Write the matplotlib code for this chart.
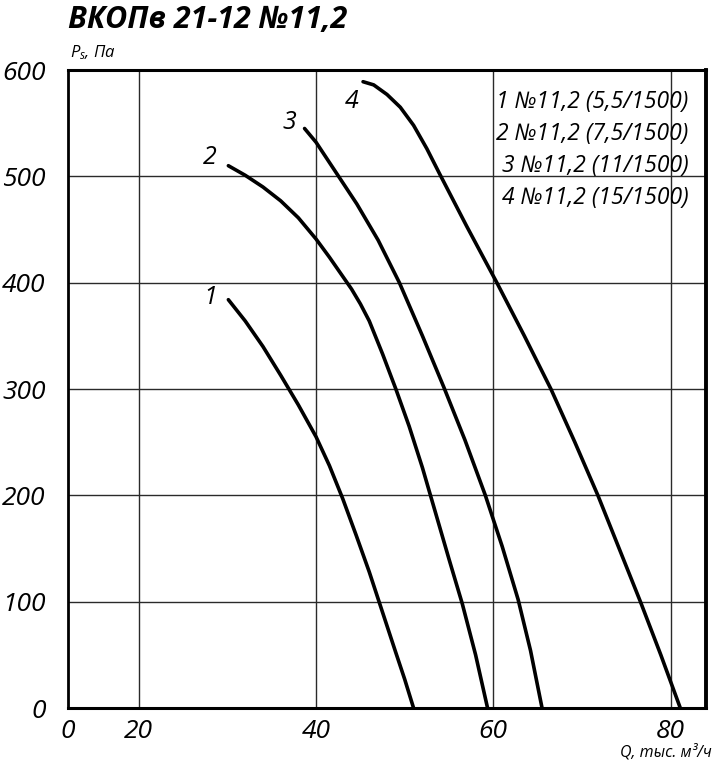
import matplotlib
matplotlib.use("Agg")
import matplotlib.pyplot as plt

plt.rcParams['font.family'] = ['Open Sans', 'DejaVu Sans']
plt.rcParams['font.style'] = 'italic'
plt.rcParams['mathtext.fontset'] = 'custom'
plt.rcParams['mathtext.it'] = 'Open Sans:italic'
plt.rcParams['mathtext.rm'] = 'Open Sans:italic'

# Характеристики вентиляторов (Q, тыс. м3/ч ; Ps, Па)
q1 = [30.1, 32.0, 34.0, 36.0, 38.0, 40.0, 41.5, 43.0, 44.5, 46.0, 47.5, 49.0, 50.0, 51.0]
p1 = [384, 364, 340, 313, 285, 255, 228, 197, 163, 128, 90, 52, 27, 0]

q2 = [30.1, 32.0, 34.0, 36.0, 38.0, 40.0, 41.5, 43.0, 44.0, 45.0, 46.0, 47.5, 49.0,
      50.5, 52.0, 53.5, 55.0, 56.5, 58.0, 59.35]
p2 = [510, 501, 490, 477, 461, 441, 424, 406, 394, 380, 364, 333, 300,
      265, 226, 183, 140, 98, 50, 0]

q3 = [38.7, 40.0, 42.3, 44.6, 47.0, 49.4, 52.0, 54.4, 56.8, 59.1, 61.0, 62.8, 64.2, 65.5]
p3 = [545, 532, 503, 474, 440, 400, 350, 302, 252, 200, 152, 102, 54, 0]

q4 = [45.3, 46.5, 48.0, 49.5, 51.0, 52.5, 53.9, 57.0, 60.4, 63.5, 66.5, 69.2,
      71.8, 74.2, 76.6, 78.9, 81.1]
p4 = [589, 586, 577, 565, 548, 526, 503, 453, 400, 350, 300, 250,
      200, 150, 100, 50, 0]

curve_names = ['1', '2', '3', '4']
legend_lines = ['1 №11,2 (5,5/1500)', '2 №11,2 (7,5/1500)',
                '3 №11,2 (11/1500)', '4 №11,2 (15/1500)']

x_ticks = [12, 20, 40, 60, 80]
x_ticklabels = ['0', '20', '40', '60', '80']
y_ticks = [0, 100, 200, 300, 400, 500, 600]

fig = plt.figure(figsize=(7.27, 7.66), dpi=100)
ax = fig.add_axes([0.0935, 0.0757, 0.8776, 0.8329])

ax.set_xlim(12, 84)
ax.set_ylim(0, 600)
ax.set_xticks(x_ticks)
ax.set_xticklabels(x_ticklabels)
ax.set_yticks(y_ticks)
ax.tick_params(length=0, labelsize=19)
ax.tick_params(axis='x', pad=8)
ax.tick_params(axis='y', pad=16)

# сетка
for xv in x_ticks[1:]:
    ax.axvline(xv, color='#2a2a2a', lw=1.0, zorder=1)
for yv in y_ticks[1:]:
    ax.axhline(yv, color='#2a2a2a', lw=1.0, zorder=1)

for side, w in [('left', 2.0), ('bottom', 2.2), ('top', 2.2), ('right', 2.8)]:
    ax.spines[side].set_linewidth(w)
    ax.spines[side].set_color('black')

for q, p in [(q1, p1), (q2, p2), (q3, p3), (q4, p4)]:
    ax.plot(q, p, color='black', lw=2.6, solid_capstyle='round',
            solid_joinstyle='round', zorder=3)

# номера кривых
label_pos = [(28.1, 386), (28.0, 518), (37.0, 551), (44.0, 570)]
for name, (lx, ly) in zip(curve_names, label_pos):
    ax.text(lx, ly, name, fontsize=18, ha='center', va='center')

for i, line in enumerate(legend_lines):
    ax.text(0.972, 0.950 - i * 0.0502, line, transform=ax.transAxes,
            fontsize=16.5, ha='right', va='center')

ax.text(0.003, 1.012, '$P_s$, Па', transform=ax.transAxes,
        fontsize=12, ha='left', va='bottom')
ax.text(1.009, -0.057, 'Q, тыс. м³/ч', transform=ax.transAxes,
        fontsize=11.5, ha='right', va='top')

fig.text(0.093, 0.974, 'ВКОПв 21-12 №11,2', fontsize=22,
         fontweight='bold', style='italic', ha='left', va='center')

fig.savefig('out.png', dpi=100)
